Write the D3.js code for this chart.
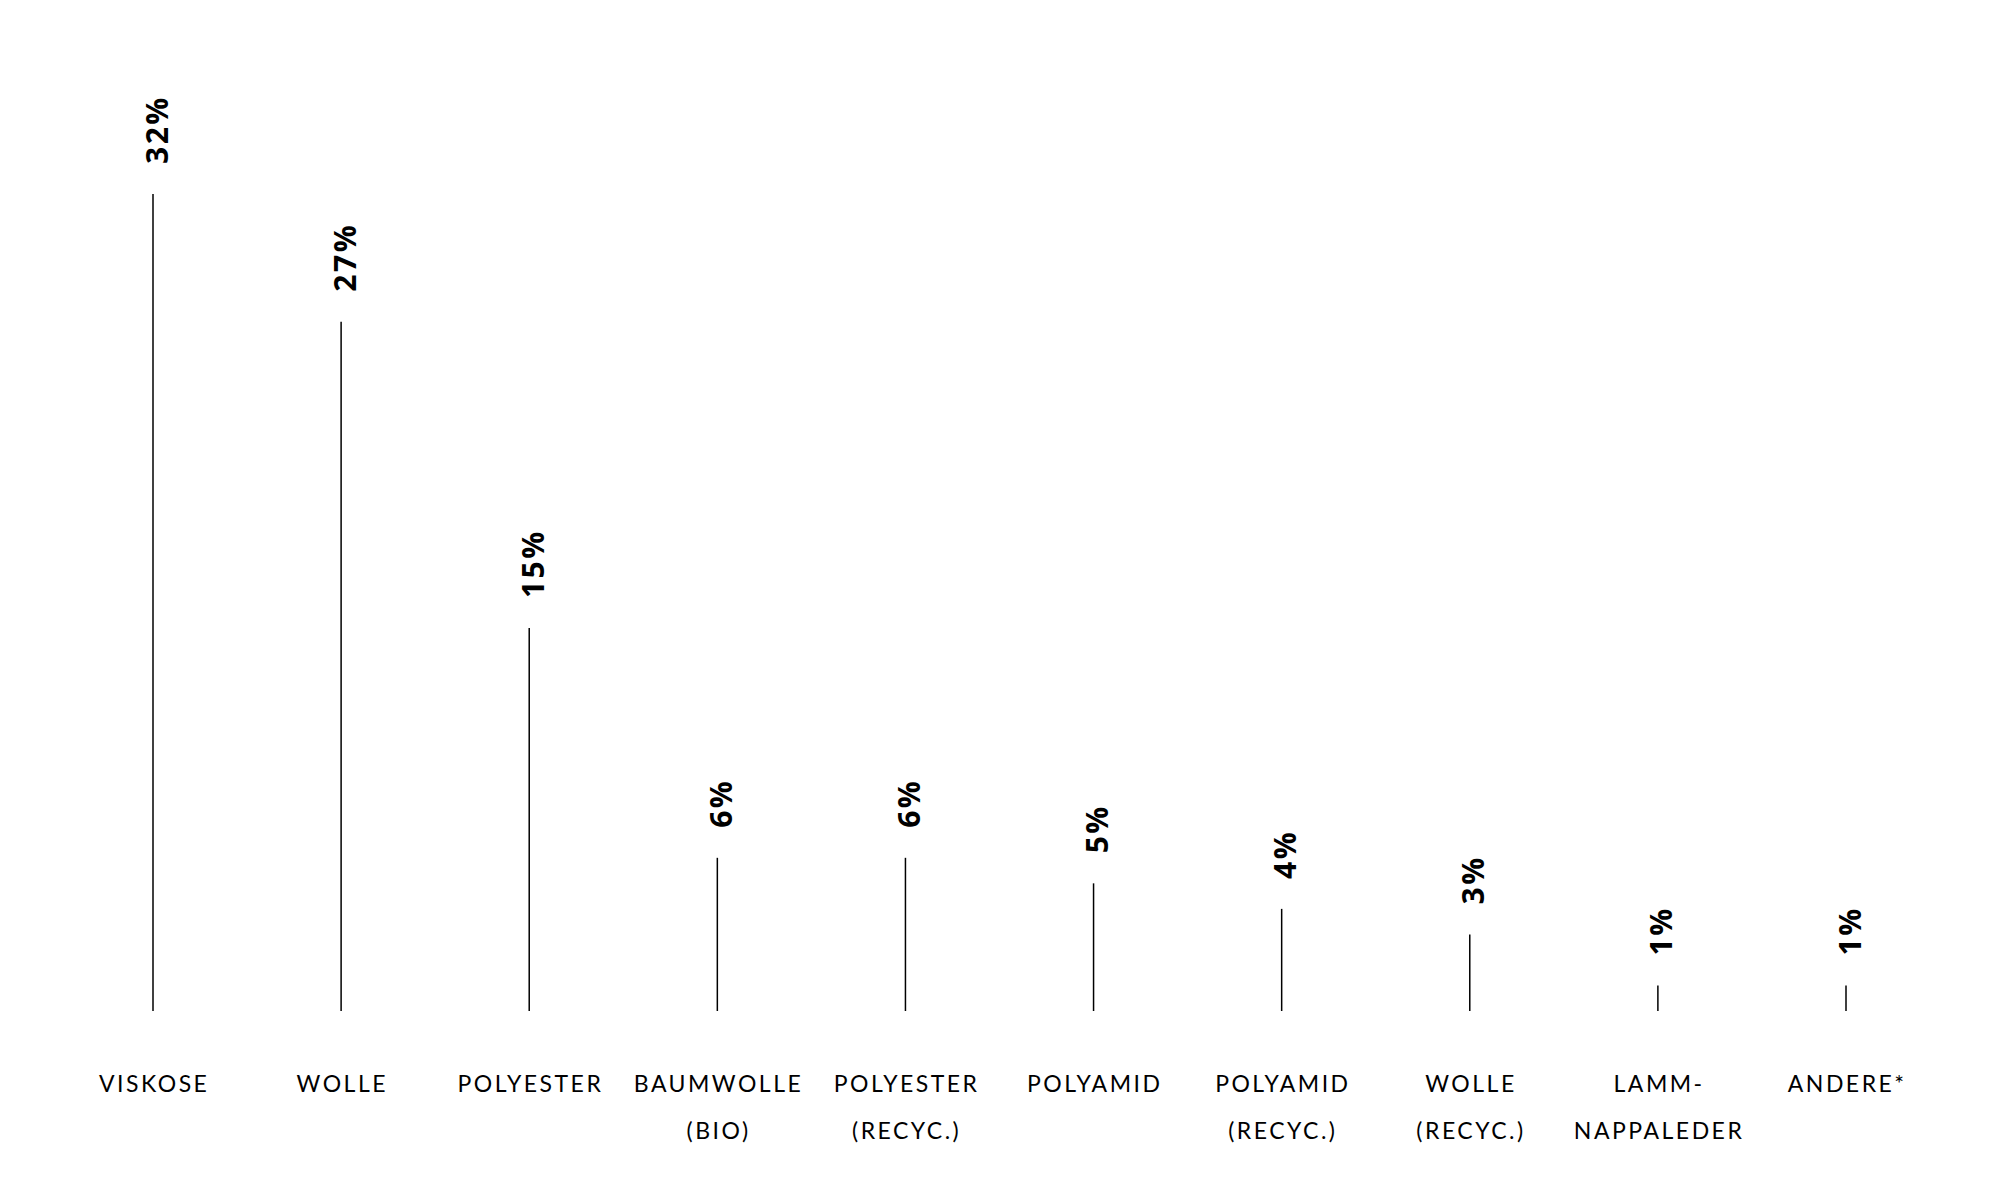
<!DOCTYPE html>
<html>
<head>
<meta charset="utf-8">
<script src="https://cdn.jsdelivr.net/npm/d3@7"></script>
<style>
  html, body { margin: 0; padding: 0; background: #fff; }
  svg { display: block; }
</style>
</head>
<body>
<svg id="chart"></svg>
<script>
// Material shares
const categories = [
  ["VISKOSE"],
  ["WOLLE"],
  ["POLYESTER"],
  ["BAUMWOLLE", "(BIO)"],
  ["POLYESTER", "(RECYC.)"],
  ["POLYAMID"],
  ["POLYAMID", "(RECYC.)"],
  ["WOLLE", "(RECYC.)"],
  ["LAMM-", "NAPPALEDER"],
  ["ANDERE*"]
];
const values = [32, 27, 15, 6, 6, 5, 4, 3, 1, 1];
const valueLabels = values.map((v) => v + "%");

const width = 2000;
const height = 1200;
const margin = { top: 194, bottom: 189, left: 153, right: 154 };

const svg = d3.select("#chart").attr("width", width).attr("height", height);

// Scales
const x = d3
  .scalePoint()
  .domain(d3.range(categories.length))
  .range([margin.left, width - margin.right]);

const y = d3
  .scaleLinear()
  .domain([0, d3.max(values)])
  .range([height - margin.bottom, margin.top]);

// Lollipop stems (no dots)
svg
  .append("g")
  .selectAll("line")
  .data(values)
  .join("line")
  .attr("x1", (d, i) => x(i))
  .attr("x2", (d, i) => x(i))
  .attr("y1", y(0))
  .attr("y2", (d) => y(d))
  .attr("stroke", "#000")
  .attr("stroke-width", 1.5);

// Value labels, rotated
svg
  .append("g")
  .selectAll("text")
  .data(values)
  .join("text")
  .attr("transform", (d, i) => `translate(${x(i) + 3},${y(d) - 30}) rotate(-90)`)
  .attr("dominant-baseline", "central")
  .attr("text-anchor", "start")
  .attr("font-family", "'Open Sans', sans-serif")
  .attr("font-weight", 700)
  .attr("font-size", 30)
  .attr("letter-spacing", 2.5)
  .attr("fill", "#000")
  .text((d, i) => valueLabels[i]);

// Category labels
const cat = svg
  .append("g")
  .selectAll("text")
  .data(categories)
  .join("text")
  .attr("x", (d, i) => x(i))
  .attr("y", 1092)
  .attr("text-anchor", "middle")
  .attr("font-family", "Lato, sans-serif")
  .attr("font-size", 23)
  .attr("letter-spacing", 2.5)
  .attr("fill", "#000");

cat
  .selectAll("tspan")
  .data((d, i) => d.map((t) => ({ t, i })))
  .join("tspan")
  .attr("x", (d) => x(d.i) + 1.2)
  .attr("dy", (d, j) => (j === 0 ? 0 : 47))
  .text((d) => d.t);
</script>
</body>
</html>
